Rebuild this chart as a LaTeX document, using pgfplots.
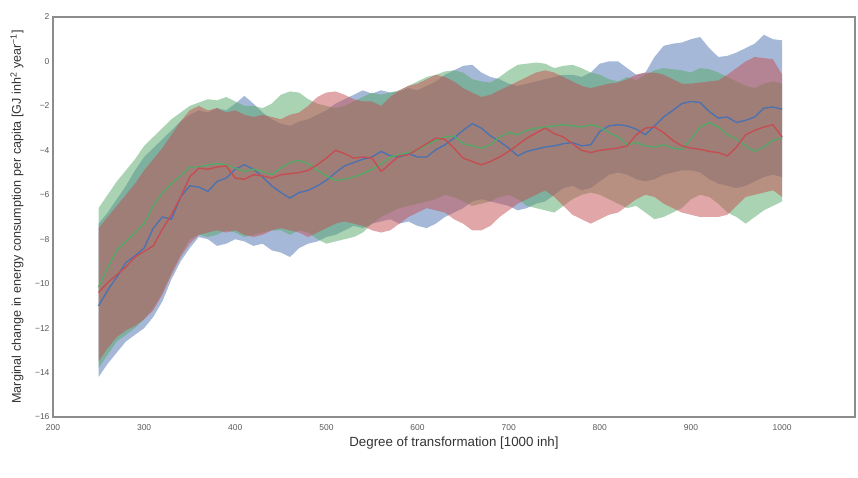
\documentclass[border=0pt]{standalone}
\usepackage{pgfplots}
\pgfplotsset{compat=1.18}
\usepackage{pgfplotstable}
\usepgfplotslibrary{fillbetween}
\usepackage{fontspec}
\setmainfont{Liberation Sans}
\definecolor{sblue}{HTML}{4C72B0}
\definecolor{sgreen}{HTML}{55A868}
\definecolor{sred}{HTML}{C44E52}
\definecolor{framegray}{HTML}{8C8C8C}
\definecolor{ticktext}{HTML}{5A5A5A}
\definecolor{labeltext}{HTML}{333333}
\pgfplotstableread{
x bm bl bu gm gl gu rm rl ru
250 -11.0 -14.2 -7.3 -10.15 -13.8 -6.6 -10.4 -13.5 -7.5
260 -10.3 -13.6 -6.8 -9.3 -13.2 -6.0 -9.95 -12.9 -7.0
270 -9.7 -13.1 -6.2 -8.5 -12.6 -5.4 -9.6 -12.4 -6.5
280 -9.05 -12.6 -5.6 -8.1 -12.3 -4.9 -9.25 -12.1 -6.0
290 -8.75 -12.3 -4.9 -7.7 -12.0 -4.4 -8.8 -11.9 -5.5
300 -8.4 -12.0 -4.3 -7.3 -11.6 -3.8 -8.55 -11.6 -4.9
310 -7.5 -11.5 -3.9 -6.5 -11.1 -3.4 -8.3 -11.2 -4.4
320 -7.0 -10.8 -3.5 -5.9 -10.4 -3.0 -7.55 -10.5 -3.9
330 -7.1 -9.8 -3.1 -5.5 -9.5 -2.6 -6.9 -9.6 -3.3
340 -6.1 -9.0 -2.7 -5.15 -8.7 -2.3 -6.1 -8.8 -2.7
350 -5.6 -8.4 -2.4 -4.75 -8.0 -2.0 -5.2 -8.2 -2.2
360 -5.65 -7.9 -2.2 -4.75 -7.8 -1.85 -4.8 -7.8 -2.0
370 -5.85 -8.0 -2.3 -4.65 -7.9 -1.7 -4.85 -7.7 -2.2
380 -5.4 -8.3 -2.1 -4.6 -7.8 -1.75 -4.75 -7.6 -2.1
390 -5.25 -8.2 -2.2 -4.65 -7.6 -1.6 -4.7 -7.7 -2.3
400 -4.85 -8.0 -1.9 -4.8 -7.7 -1.8 -5.25 -7.6 -2.2
410 -4.65 -8.1 -1.55 -4.95 -7.9 -2.0 -5.3 -7.8 -2.4
420 -4.85 -8.3 -1.9 -4.85 -7.8 -2.0 -5.1 -7.9 -2.5
430 -5.2 -8.2 -2.3 -4.95 -7.7 -2.1 -5.15 -7.8 -2.4
440 -5.6 -8.5 -2.6 -5.1 -7.6 -1.9 -5.25 -7.6 -2.5
450 -5.9 -8.6 -2.8 -4.8 -7.6 -1.5 -5.1 -7.5 -2.6
460 -6.15 -8.8 -2.9 -4.55 -7.8 -1.35 -5.05 -7.6 -2.4
470 -5.9 -8.4 -2.7 -4.45 -7.6 -1.4 -5.0 -7.7 -2.3
480 -5.8 -8.2 -2.6 -4.6 -7.7 -1.7 -4.9 -7.9 -2.0
490 -5.6 -8.1 -2.4 -4.9 -8.0 -1.9 -4.65 -7.7 -1.6
500 -5.35 -7.9 -2.2 -5.15 -8.2 -2.0 -4.35 -7.5 -1.4
510 -5.0 -7.8 -1.9 -5.35 -8.1 -2.1 -4.0 -7.3 -1.35
520 -4.7 -7.6 -1.7 -5.3 -8.0 -2.0 -4.15 -7.2 -1.5
530 -4.55 -7.4 -1.5 -5.2 -7.9 -1.8 -4.35 -7.3 -1.7
540 -4.4 -7.5 -1.3 -5.05 -7.7 -1.6 -4.3 -7.4 -1.8
550 -4.3 -7.3 -1.45 -4.85 -7.3 -1.4 -4.35 -7.6 -1.8
560 -4.05 -7.2 -1.3 -4.6 -7.0 -1.5 -4.95 -7.7 -2.0
570 -4.25 -7.1 -1.4 -4.3 -6.8 -1.4 -4.6 -7.6 -1.6
580 -4.3 -7.3 -1.35 -4.2 -6.6 -1.3 -4.25 -7.3 -1.3
590 -4.15 -7.2 -1.2 -4.1 -6.5 -1.1 -4.2 -7.0 -1.1
600 -4.3 -7.4 -1.3 -4.0 -6.4 -0.9 -3.95 -6.8 -1.0
610 -4.3 -7.5 -1.1 -3.75 -6.3 -0.7 -3.7 -6.6 -0.8
620 -3.97 -7.3 -0.9 -3.55 -6.2 -0.6 -3.45 -6.7 -0.6
630 -3.75 -7.0 -0.6 -3.4 -6.0 -0.45 -3.5 -6.8 -0.7
640 -3.45 -6.8 -0.4 -3.35 -6.1 -0.4 -3.9 -7.1 -0.9
650 -3.1 -6.6 -0.2 -3.7 -6.3 -0.5 -4.35 -7.3 -1.2
660 -2.8 -6.3 -0.15 -3.8 -6.5 -0.8 -4.5 -7.6 -1.4
670 -3.0 -6.2 -0.5 -3.9 -6.4 -0.9 -4.65 -7.6 -1.6
680 -3.35 -6.3 -0.7 -3.75 -6.3 -0.95 -4.5 -7.4 -1.5
690 -3.6 -6.4 -0.8 -3.4 -6.1 -0.7 -4.3 -7.0 -1.3
700 -3.9 -6.5 -1.0 -3.2 -6.0 -0.4 -4.05 -6.7 -1.1
710 -4.25 -6.7 -1.1 -3.3 -6.2 -0.15 -3.75 -6.4 -0.9
720 -4.05 -6.6 -1.0 -3.1 -6.5 -0.1 -3.45 -6.2 -0.7
730 -3.95 -6.4 -0.9 -3.0 -6.6 -0.05 -3.22 -6.0 -0.5
740 -3.85 -6.3 -0.8 -2.95 -6.7 -0.1 -3.0 -5.8 -0.4
750 -3.8 -6.0 -0.7 -2.9 -6.8 -0.3 -3.25 -6.1 -0.5
760 -3.7 -5.7 -0.6 -2.85 -6.5 -0.2 -3.4 -6.5 -0.7
770 -3.65 -5.6 -0.6 -2.9 -6.2 -0.15 -3.7 -6.9 -0.9
780 -3.8 -5.8 -0.7 -2.95 -6.0 -0.3 -4.0 -7.1 -1.1
790 -3.75 -5.7 -0.5 -2.85 -5.9 -0.5 -4.1 -7.3 -1.2
800 -3.15 -5.4 -0.1 -2.95 -6.0 -0.6 -4.0 -7.1 -1.1
810 -2.9 -5.1 0.0 -3.2 -6.2 -0.8 -3.95 -6.9 -1.0
820 -2.85 -5.0 0.0 -3.4 -6.4 -0.9 -3.9 -6.8 -0.95
830 -2.9 -5.1 -0.3 -3.75 -6.6 -0.7 -3.8 -6.5 -0.8
840 -3.05 -5.3 -0.6 -3.65 -6.5 -0.85 -3.3 -6.2 -0.6
850 -3.3 -5.4 -0.5 -3.8 -6.8 -0.6 -3.0 -6.0 -0.5
860 -2.9 -5.3 0.2 -3.85 -7.1 -0.4 -2.95 -6.1 -0.5
870 -2.5 -5.1 0.7 -3.75 -7.0 -0.3 -3.2 -6.4 -0.6
880 -2.2 -5.0 0.8 -3.9 -6.8 -0.35 -3.55 -6.6 -0.8
890 -1.9 -4.9 0.85 -3.95 -6.6 -0.4 -3.8 -6.8 -1.0
900 -1.8 -4.9 1.0 -3.5 -6.2 -0.5 -3.9 -6.9 -1.0
910 -1.85 -5.0 1.1 -2.95 -6.0 -0.3 -3.95 -7.0 -0.95
920 -2.25 -5.3 0.6 -2.75 -6.1 -0.35 -4.05 -7.0 -0.9
930 -2.55 -5.5 0.2 -2.95 -6.4 -0.5 -4.1 -7.0 -0.85
940 -2.5 -5.6 0.25 -3.3 -6.8 -0.7 -4.25 -6.9 -0.6
950 -2.75 -5.7 0.4 -3.5 -7.0 -0.9 -3.85 -6.5 -0.3
960 -2.65 -5.6 0.6 -3.8 -7.3 -1.1 -3.3 -6.1 0.0
970 -2.5 -5.4 0.8 -4.05 -7.0 -1.2 -3.1 -6.0 0.2
980 -2.1 -5.2 1.2 -3.85 -6.7 -1.0 -2.95 -5.9 0.15
990 -2.05 -5.1 1.0 -3.55 -6.5 -0.9 -2.85 -5.8 0.1
1000 -2.15 -5.2 0.95 -3.45 -6.3 -1.0 -3.4 -6.1 -0.6
}\data
\begin{document}
\begin{tikzpicture}
\begin{axis}[
  at={(53pt,61pt)}, anchor=south west,
  scale only axis, width=802pt, height=400pt,
  xmin=200, xmax=1080, ymin=-16, ymax=2,
  xtick={200,300,...,1000}, ytick={-16,-14,...,2},
  yticklabels={−16,−14,−12,−10,−8,−6,−4,−2,0,2},
  axis line style={framegray, line width=1.5pt},
  major tick length=0pt,
  /pgf/number format/assume math mode=true,
  /pgf/number format/1000 sep={},
  tick label style={font=\fontsize{8.5}{10}\selectfont, text=ticktext},
  xticklabel style={yshift=-4pt},
  xlabel={Degree of transformation [1000 inh]},
  ylabel={Marginal change in energy consumption per capita [GJ inh\textsuperscript{2} year\textsuperscript{−1}]},
  every axis x label/.style={at={(axis description cs:0.5,-0.065)}, anchor=center, font=\fontsize{13.3}{15}\selectfont, text=labeltext},
  every axis y label/.style={at={(axis description cs:-0.045,0.5)}, anchor=center, rotate=90, font=\fontsize{12.6}{14}\selectfont, text=labeltext},
]
\addplot[name path=bU, draw=none] table[x=x,y=bu]{\data};
\addplot[name path=bL, draw=none] table[x=x,y=bl]{\data};
\addplot[fill=sblue, fill opacity=0.5, draw=none] fill between[of=bU and bL];
\addplot[name path=gU, draw=none] table[x=x,y=gu]{\data};
\addplot[name path=gL, draw=none] table[x=x,y=gl]{\data};
\addplot[fill=sgreen, fill opacity=0.5, draw=none] fill between[of=gU and gL];
\addplot[name path=rU, draw=none] table[x=x,y=ru]{\data};
\addplot[name path=rL, draw=none] table[x=x,y=rl]{\data};
\addplot[fill=sred, fill opacity=0.5, draw=none] fill between[of=rU and rL];
\addplot[sblue, line width=1.4pt] table[x=x,y=bm]{\data};
\addplot[sgreen, line width=1.4pt] table[x=x,y=gm]{\data};
\addplot[sred, line width=1.4pt] table[x=x,y=rm]{\data};
\end{axis}
\pgfresetboundingbox
\path[use as bounding box] (0,0) rectangle (858pt,478pt);
\end{tikzpicture}
\end{document}
